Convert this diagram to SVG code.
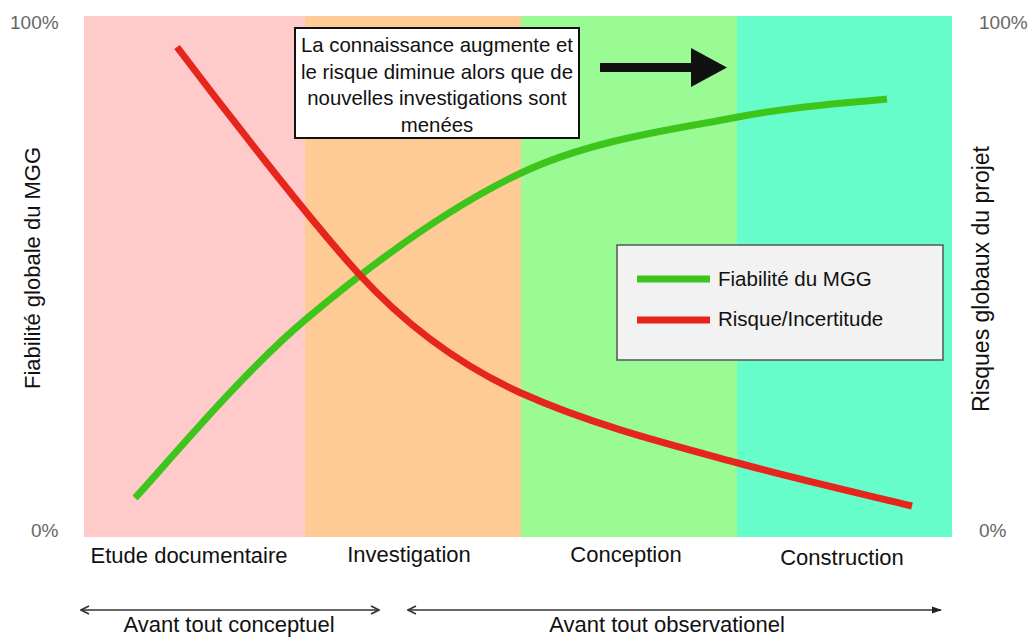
<svg xmlns="http://www.w3.org/2000/svg" width="1032" height="638" viewBox="0 0 1032 638">
<defs>
<style>
text{font-family:"Liberation Sans",Arial,sans-serif;fill:#111}
.pct{font-size:19px;fill:#666}
.ax{font-size:22px}
.ph{font-size:22px;text-anchor:middle}
.box{font-size:20.4px;text-anchor:middle}
.lg{font-size:20.5px}
.curve{fill:none;stroke-width:7;stroke-linecap:butt;stroke-linejoin:round}
.span{stroke:#333;stroke-width:1.5;fill:none}
</style>
<marker id="chev" viewBox="0 0 10 10" refX="9" refY="5" markerWidth="10" markerHeight="10" markerUnits="userSpaceOnUse" orient="auto-start-reverse">
<path d="M1,1 L9,5 L1,9" fill="none" stroke="#333" stroke-width="1.6"/>
</marker>
<marker id="tri" viewBox="0 0 10 10" refX="9" refY="5" markerWidth="10" markerHeight="10" markerUnits="userSpaceOnUse" orient="auto">
<path d="M0,1.5 L10,5 L0,8.5 Z" fill="#222"/>
</marker>
</defs>
<rect width="1032" height="638" fill="#fff"/>
<g id="bands">
<rect x="84" y="16" width="221" height="521" fill="#FFCACA"/>
<rect x="305" y="16" width="216" height="521" fill="#FECB97"/>
<rect x="521" y="16" width="216" height="521" fill="#9AFA94"/>
<rect x="737" y="16" width="215" height="521" fill="#67FDCB"/>
</g>
<g id="axes">
<text class="pct" x="10" y="29">100%</text>
<text class="pct" x="31" y="537">0%</text>
<text class="pct" x="979" y="29">100%</text>
<text class="pct" x="979" y="537">0%</text>
<text class="ax" transform="translate(40,268) rotate(-90)" text-anchor="middle">Fiabilité globale du MGG</text>
<text class="ax" transform="translate(989,279) rotate(-90)" text-anchor="middle" style="font-size:23px">Risques globaux du projet</text>
</g>
<g id="curves">
<path id="green-curve" class="curve" stroke="#3EC51C" d="M135,498 C163,468 241,374 305,320 C369,266 449,207 521,173 C593,139 677,129 738,117 C799,105 862,102 887,99"/>
<path id="red-curve" class="curve" stroke="#E6261C" d="M177,47 C217,100 308,218 358,273 C408,328 466,368 521,393 C591,424.5 668,444 738,463 C796,479 854,492 912,506"/>
</g>
<g id="note">
<rect x="295" y="28" width="284" height="110" fill="#fff" stroke="#111" stroke-width="2"/>
<text class="box" x="437" y="52">La connaissance augmente et</text>
<text class="box" x="437" y="78.5">le risque diminue alors que de</text>
<text class="box" x="437" y="105">nouvelles investigations sont</text>
<text class="box" x="437" y="131.5">menées</text>
</g>
<g id="progress-arrow">
<line x1="600" y1="67.5" x2="694" y2="67.5" stroke="#111" stroke-width="9"/>
<polygon points="691,48 727,67.5 691,87" fill="#111"/>
</g>
<g id="legend">
<rect x="617" y="245" width="326" height="115" fill="#F2F2F2" stroke="#555" stroke-width="1.5"/>
<line x1="637" y1="279" x2="710" y2="279" stroke="#3EC51C" stroke-width="7"/>
<line x1="637" y1="320" x2="710" y2="320" stroke="#E6261C" stroke-width="7"/>
<text class="lg" x="718" y="286">Fiabilité du MGG</text>
<text class="lg" x="718" y="326">Risque/Incertitude</text>
</g>
<g id="phases">
<text class="ph" x="189" y="563">Etude documentaire</text>
<text class="ph" x="409" y="562">Investigation</text>
<text class="ph" x="626" y="562">Conception</text>
<text class="ph" x="842" y="565">Construction</text>
</g>
<g id="connectors">
<line class="span" x1="81" y1="610" x2="379" y2="610" marker-start="url(#chev)" marker-end="url(#chev)"/>
<line class="span" x1="408" y1="610" x2="941" y2="610" marker-start="url(#chev)" marker-end="url(#tri)"/>
</g>
<g id="span-labels">
<text class="ph" x="229" y="632">Avant tout conceptuel</text>
<text class="ph" x="667" y="632">Avant tout observationel</text>
</g>
</svg>
